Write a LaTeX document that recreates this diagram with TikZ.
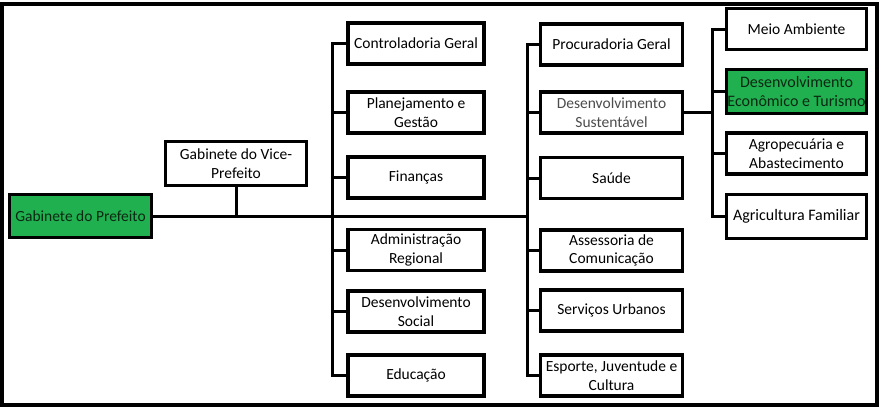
\documentclass[tikz,border=0pt]{standalone}
\usepackage{fontspec}
\setmainfont{Carlito}
\definecolor{orggreen}{RGB}{32,176,80}
\definecolor{darktxt}{RGB}{12,40,18}
\begin{document}
\begin{tikzpicture}[x=1pt,y=-1pt,
  orgbox/.style={draw=black, line width=3.8pt, fill=white, inner sep=0pt, align=center,
    font=\fontsize{15.5}{18.5}\selectfont, minimum height=41pt},
  c1box/.style={orgbox, minimum width=136pt},
  c2box/.style={orgbox, minimum width=142pt},
  c3box/.style={orgbox, minimum width=140pt},
  greenbox/.style={fill=orggreen, text=darktxt},
  conn/.style={draw=black, line width=3pt}]
\useasboundingbox (0,0) rectangle (882,410);
\draw[line width=4pt] (2,3.5) rectangle (877,405);

% left
\node[orgbox, greenbox, minimum width=142pt, minimum height=43pt] (pref) at (80.5,216) {Gabinete do Prefeito};
\node[orgbox, minimum width=141pt, minimum height=44pt] (vice) at (236,163.5) {Gabinete do Vice-\\Prefeito};

% column 1
\node[c1box] (cg)  at (416,43.5)  {Controladoria Geral};
\node[c1box] (pg)  at (416,112.5) {Planejamento e\\Gestão};
\node[c1box] (fin) at (416,177.5) {Finanças};
\node[c1box] (adm) at (416,250)   {Administração\\Regional};
\node[c1box] (ds1) at (416,311.5) {Desenvolvimento\\Social};
\node[c1box] (edu) at (416,375.5) {Educação};

% column 2
\node[c2box] (pro) at (611.5,44.5)  {Procuradoria Geral};
\node[c2box, text=black!70] (dsu) at (611.5,112.5) {Desenvolvimento\\Sustentável};
\node[c2box] (sau) at (611.5,178)   {Saúde};
\node[c2box] (ass) at (611.5,250.5) {Assessoria de\\Comunicação};
\node[c2box] (ser) at (611.5,310.5) {Serviços Urbanos};
\node[c2box] (esp) at (611.5,375.5) {Esporte, Juventude e\\Cultura};

% column 3
\node[c3box] (mei) at (796.5,29)    {Meio Ambiente};
\node[c3box, greenbox, minimum height=44pt, font=\fontsize{16}{18.5}\selectfont] (dec) at (796.5,91.5) {Desenvolvimento\\Econômico e Turismo};
\node[c3box] (agr) at (796.5,153.5) {Agropecuária e\\Abastecimento};
\node[c3box, minimum height=44pt, font=\fontsize{16}{18.5}\selectfont] (agf) at (796.5,216.5) {Agricultura Familiar};

% bus x positions
\coordinate (b1) at (332,0);
\coordinate (b2) at (527,0);
\coordinate (b3) at (712,0);

% main line
\draw[conn] (pref.east) -- (pref.east -| b2);
\draw[conn] (vice.south) -- (vice.south |- pref.east);

% column 1 bus
\draw[conn] (cg.west) -| (b1 |- edu.west) -- (edu.west);
\foreach \n in {pg,fin,adm,ds1}{\draw[conn] (\n.west) -- (\n.west -| b1);}

% column 2 bus
\draw[conn] (pro.west) -| (b2 |- esp.west) -- (esp.west);
\foreach \n in {dsu,sau,ass,ser}{\draw[conn] (\n.west) -- (\n.west -| b2);}

% column 3 bus
\draw[conn] (mei.west) -| (b3 |- agf.west) -- (agf.west);
\foreach \n in {dec,agr}{\draw[conn] (\n.west) -- (\n.west -| b3);}
\draw[conn] (dsu.east) -- (dsu.east -| b3);
\end{tikzpicture}
\end{document}
